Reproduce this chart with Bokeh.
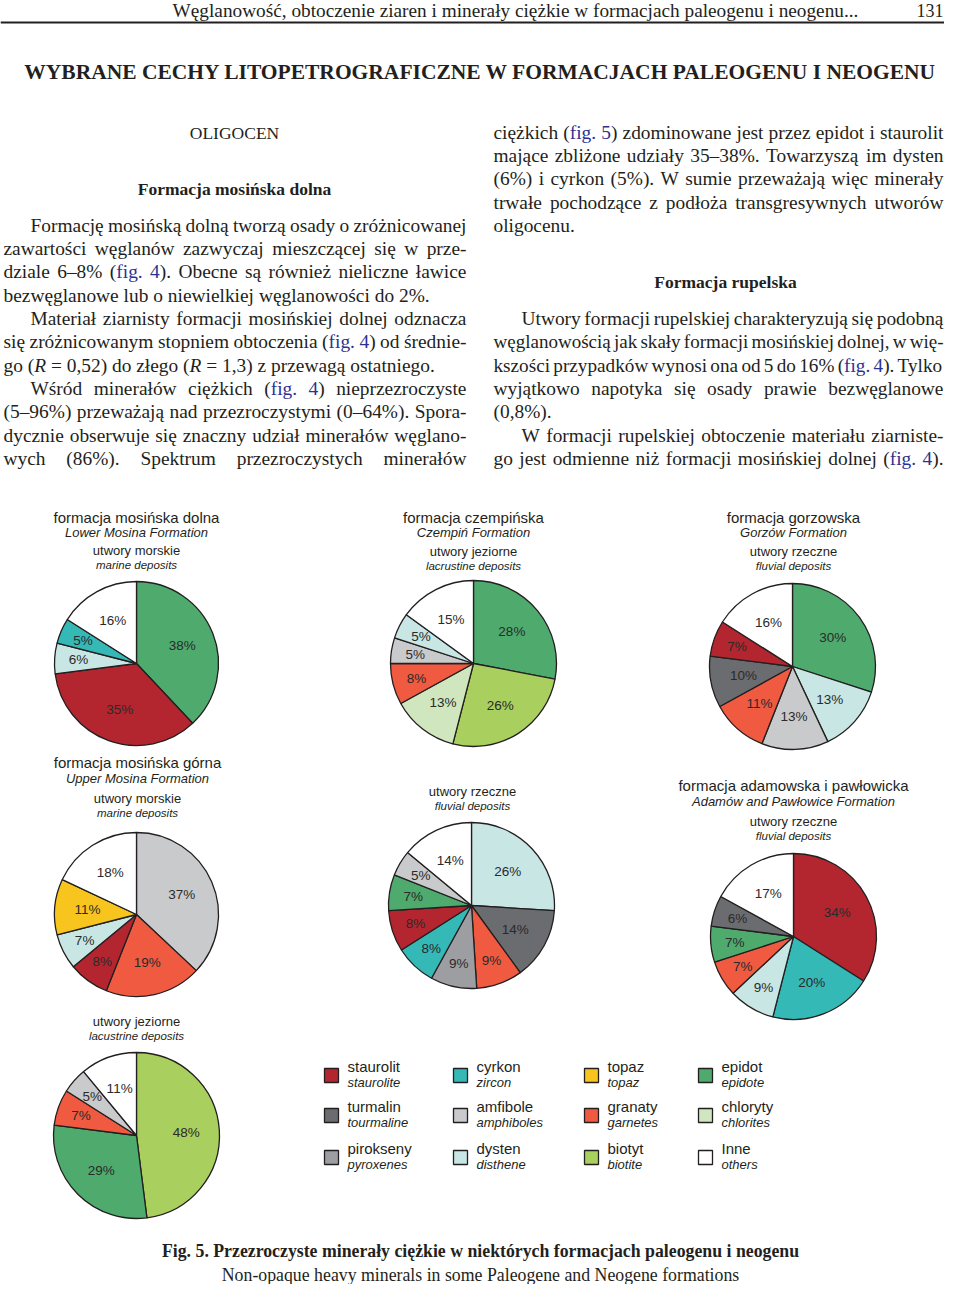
import math
import unicodedata
from bokeh.plotting import figure
from bokeh.models import Range1d, ColumnDataSource
from bokeh.core.properties import value, field
from bokeh.embed import file_html
from bokeh.resources import INLINE

# ---------------------------------------------------------------- data
MINERAL_KEYS = ["staurolit", "turmalin", "pirokseny", "cyrkon", "amfibole", "dysten",
                "topaz", "granaty", "biotyt", "epidot", "chloryty", "inne"]
MINERAL_PL = ["staurolit", "turmalin", "pirokseny", "cyrkon", "amfibole", "dysten",
              "topaz", "granaty", "biotyt", "epidot", "chloryty", "Inne"]
MINERAL_EN = ["staurolite", "tourmaline", "pyroxenes", "zircon", "amphiboles", "disthene",
              "topaz", "garnetes", "biotite", "epidote", "chlorites", "others"]
MINERAL_COLORS = ["#b3262f", "#6b6c70", "#9d9ea1", "#35b9b7", "#c9cacc", "#c8e6e3",
                  "#f8c51f", "#ef5a40", "#a9cf5e", "#4eaa6d", "#cfe6be", "#ffffff"]

dolna_minerals = ["epidot", "staurolit", "dysten", "cyrkon", "inne"]
dolna_values = [38, 35, 6, 5, 16]

czempin_minerals = ["epidot", "biotyt", "chloryty", "granaty", "amfibole", "dysten", "inne"]
czempin_values = [28, 26, 13, 8, 5, 5, 15]

gorzow_minerals = ["epidot", "dysten", "amfibole", "granaty", "turmalin", "staurolit", "inne"]
gorzow_values = [30, 13, 13, 11, 10, 7, 16]

gorna_marine_minerals = ["amfibole", "granaty", "staurolit", "dysten", "topaz", "inne"]
gorna_marine_values = [37, 19, 8, 7, 11, 18]

gorna_fluvial_minerals = ["dysten", "turmalin", "granaty", "pirokseny", "cyrkon",
                          "staurolit", "epidot", "amfibole", "inne"]
gorna_fluvial_values = [26, 14, 9, 9, 8, 8, 7, 5, 14]

adamow_minerals = ["staurolit", "cyrkon", "dysten", "granaty", "epidot", "turmalin", "inne"]
adamow_values = [34, 20, 9, 7, 7, 6, 17]

gorna_lacustrine_minerals = ["biotyt", "epidot", "granaty", "amfibole", "inne"]
gorna_lacustrine_values = [48, 29, 7, 5, 11]

pie_titles = [
    ["formacja mosińska dolna", "Lower Mosina Formation", "utwory morskie", "marine deposits"],
    ["formacja czempińska", "Czempiń Formation", "utwory jeziorne", "lacrustine deposits"],
    ["formacja gorzowska", "Gorzów Formation", "utwory rzeczne", "fluvial deposits"],
    ["formacja mosińska górna", "Upper Mosina Formation", "utwory morskie", "marine deposits"],
    [None, None, "utwory rzeczne", "fluvial deposits"],
    ["formacja adamowska i pawłowicka", "Adamów and Pawłowice Formation", "utwory rzeczne", "fluvial deposits"],
    [None, None, "utwory jeziorne", "lacustrine deposits"],
]

RUNNING_HEAD = "Węglanowość, obtoczenie ziaren i minerały ciężkie w formacjach paleogenu i neogenu..."
PAGE_NO = "131"
SECTION_TITLE = "WYBRANE CECHY LITOPETROGRAFICZNE W FORMACJACH PALEOGENU I NEOGENU"
CAPTION_PL = "Fig. 5. Przezroczyste minerały ciężkie w niektórych formacjach paleogenu i neogenu"
CAPTION_EN = "Non-opaque heavy minerals in some Paleogene and Neogene formations"

# (indent, justify, text)   [..] = link colour, _.._ = italic
LEFT_TEXT = [
    (1, 1, "Formację mosińską dolną tworzą osady o zróżnicowanej"),
    (0, 1, "zawartości węglanów zazwyczaj mieszczącej się w prze-"),
    (0, 1, "dziale 6–8% ([fig. 4]). Obecne są również nieliczne ławice"),
    (0, 0, "bezwęglanowe lub o niewielkiej węglanowości do 2%."),
    (1, 1, "Materiał ziarnisty formacji mosińskiej dolnej odznacza"),
    (0, 1, "się zróżnicowanym stopniem obtoczenia ([fig. 4]) od średnie-"),
    (0, 0, "go (_R_ = 0,52) do złego (_R_ = 1,3) z przewagą ostatniego."),
    (1, 1, "Wśród minerałów ciężkich ([fig. 4]) nieprzezroczyste"),
    (0, 1, "(5–96%) przeważają nad przezroczystymi (0–64%). Spora-"),
    (0, 1, "dycznie obserwuje się znaczny udział minerałów węglano-"),
    (0, 1, "wych (86%). Spektrum przezroczystych minerałów"),
]
LEFT_Y = [225, 248, 271, 295, 318, 341, 365, 388, 411, 435, 458]

RIGHT_TEXT = [
    (0, 1, "ciężkich ([fig. 5]) zdominowane jest przez epidot i staurolit"),
    (0, 1, "mające zbliżone udziały 35–38%. Towarzyszą im dysten"),
    (0, 1, "(6%) i cyrkon (5%). W sumie przeważają więc minerały"),
    (0, 1, "trwałe pochodzące z podłoża transgresywnych utworów"),
    (0, 0, "oligocenu."),
    (1, 1, "Utwory formacji rupelskiej charakteryzują się podobną"),
    (0, 1, "węglanowością jak skały formacji mosińskiej dolnej, w wię-"),
    (0, 1, "kszości przypadków wynosi ona od 5 do 16% ([fig. 4]). Tylko"),
    (0, 1, "wyjątkowo napotyka się osady prawie bezwęglanowe"),
    (0, 0, "(0,8%)."),
    (1, 1, "W formacji rupelskiej obtoczenie materiału ziarniste-"),
    (0, 1, "go jest odmienne niż formacji mosińskiej dolnej ([fig. 4])."),
]
RIGHT_Y = [132, 155, 178, 202, 225, 318, 341, 365, 388, 411, 435, 458]

# ---------------------------------------------------------------- style
INK = "#231f20"
LINK = "#2e3192"
SERIF = "Liberation Serif"
SANS = "Liberation Sans"
BODY_FS = 19.4

TR = {' ': 250, '%': 833, '(': 333, ')': 333, ',': 250, '-': 333, '.': 250, ':': 278, '=': 564,
      '–': 500, '…': 1000,
      'A': 722, 'B': 667, 'C': 667, 'D': 722, 'E': 611, 'F': 556, 'G': 722, 'H': 722, 'I': 333,
      'J': 389, 'K': 722, 'L': 611, 'M': 889, 'N': 722, 'O': 722, 'P': 556, 'Q': 722, 'R': 667,
      'S': 556, 'T': 611, 'U': 722, 'V': 722, 'W': 944, 'X': 722, 'Y': 722, 'Z': 611,
      'a': 444, 'b': 500, 'c': 444, 'd': 500, 'e': 444, 'f': 333, 'g': 500, 'h': 500, 'i': 278,
      'j': 278, 'k': 500, 'l': 278, 'm': 778, 'n': 500, 'o': 500, 'p': 500, 'q': 500, 'r': 333,
      's': 389, 't': 278, 'u': 500, 'v': 500, 'w': 722, 'x': 500, 'y': 500, 'z': 444}
TB = dict(TR)
TB.update({'C': 722, 'E': 667, 'F': 611, 'G': 778, 'H': 778, 'I': 389, 'J': 500, 'K': 778,
           'L': 667, 'M': 944, 'O': 778, 'P': 611, 'Q': 778, 'R': 722, 'T': 667, 'W': 1000,
           'Z': 667, 'a': 500, 'b': 556, 'd': 556, 'h': 556, 'j': 333, 'k': 556, 'm': 833,
           'n': 556, 'p': 556, 'q': 556, 'r': 444, 't': 333, 'u': 556})


def char_w(ch, bold=False, italic=False):
    if ch in ('ł', 'Ł'):
        ch = 'l' if ch == 'ł' else 'L'
    base = unicodedata.normalize('NFD', ch)[0]
    if ch.isdigit():
        return 500
    if italic and base == 'R':
        return 611
    return (TB if bold else TR).get(base, 500)


def text_w(s, bold=False, italic=False):
    return sum(char_w(c, bold, italic) for c in s)


def new_store():
    return {k: [] for k in ("x", "y", "text", "color", "size", "style")}


serif, serif_c, serif_r, sans_c, sans_l = (new_store() for _ in range(5))


def put(store, x, y, text, size, color=INK, style="normal"):
    store["x"].append(x)
    store["y"].append(-y)
    store["text"].append(text)
    store["color"].append(color)
    store["size"].append("%.2fpx" % size)
    store["style"].append(style)


def parse(s):
    chars, blue, ital = [], False, False
    for ch in s:
        if ch == '[':
            blue = True
            continue
        if ch == ']':
            blue = False
            continue
        if ch == '_':
            ital = not ital
            continue
        chars.append((ch, blue, ital))
    words, cur = [], []
    for c in chars:
        if c[0] == ' ':
            if cur:
                words.append(cur)
                cur = []
        else:
            cur.append(c)
    if cur:
        words.append(cur)
    out = []
    for w in words:
        runs = []
        for ch, b, i in w:
            if runs and runs[-1][1] == b and runs[-1][2] == i:
                runs[-1][0] += ch
            else:
                runs.append([ch, b, i])
        out.append(runs)
    return out


def set_line(text, x0, x1, y, fs, justify):
    words = parse(text)
    units = [sum(text_w(r[0], False, r[2]) for r in w) for w in words]
    U = sum(units) / 1000.0
    n = len(words)
    gap = 0.25 * fs
    if justify and n > 1:
        if U * fs + 0.17 * fs * (n - 1) > (x1 - x0):
            fs = (x1 - x0) / (U + 0.17 * (n - 1))
        gap = (x1 - x0 - U * fs) / (n - 1)
    x = x0
    for w, u in zip(words, units):
        xx = x
        for t, b, i in w:
            put(serif, xx, y, t, fs, LINK if b else INK, "italic" if i else "normal")
            xx += text_w(t, False, i) * fs / 1000.0
        x += u * fs / 1000.0 + gap


def fitted(s, width, bold=False):
    return width * 1000.0 / text_w(s, bold)


# ---------------------------------------------------------------- figure
p = figure(width=944, height=1284, x_range=Range1d(0, 944), y_range=Range1d(-1284, 0),
           output_backend="svg", toolbar_location=None, min_border=0,
           x_axis_location=None, y_axis_location=None)
p.grid.visible = False
p.outline_line_color = None
p.background_fill_color = "white"
p.border_fill_color = "white"

# running head
put(serif_c, 515, 10, RUNNING_HEAD, fitted(RUNNING_HEAD, 686), INK)
put(serif_r, 943, 10, PAGE_NO, 18, INK)
p.segment(x0=[0], y0=[-22], x1=[944], y1=[-22], line_color=INK, line_width=2)

# section title and headings
put(serif_c, 480, 71, SECTION_TITLE, fitted(SECTION_TITLE, 915, True), INK, "bold")
put(serif_c, 234, 132, "OLIGOCEN", 17.5)
put(serif_c, 234, 188, "Formacja mosińska dolna", 17.5, INK, "bold")
put(serif_c, 725, 281, "Formacja rupelska", 17.5, INK, "bold")

for (ind, just, txt), y in zip(LEFT_TEXT, LEFT_Y):
    set_line(txt, 3 + (27 if ind else 0), 466, y, BODY_FS, just)
for (ind, just, txt), y in zip(RIGHT_TEXT, RIGHT_Y):
    set_line(txt, 493 + (28 if ind else 0), 943, y, BODY_FS, just)

# captions
put(serif_c, 480, 1250, CAPTION_PL, fitted(CAPTION_PL, 638, True), INK, "bold")
put(serif_c, 480, 1274, CAPTION_EN, fitted(CAPTION_EN, 518), INK)

# ---------------------------------------------------------------- pies
color_of = dict(zip(MINERAL_KEYS, MINERAL_COLORS))
pies = [
    (dolna_minerals, dolna_values, 136, 663, 82, 136, [517, 532, 550, 564]),
    (czempin_minerals, czempin_values, 473, 663, 83, 473, [517, 532, 551, 565]),
    (gorzow_minerals, gorzow_values, 792, 666, 83, 793, [517, 532, 551, 565]),
    (gorna_marine_minerals, gorna_marine_values, 136, 914, 82, 137, [762, 778, 798, 812]),
    (gorna_fluvial_minerals, gorna_fluvial_values, 471, 905, 83, 472, [0, 0, 791, 805]),
    (adamow_minerals, adamow_values, 793, 936, 83, 793, [785, 801, 821, 835]),
    (gorna_lacustrine_minerals, gorna_lacustrine_values, 136, 1135, 83, 136, [0, 0, 1021, 1035]),
]
title_fmt = [(15, "normal"), (13, "italic"), (13, "normal"), (11.5, "italic")]

for (mins, vals, cx, cy, r, tx, tys), titles in zip(pies, pie_titles):
    total = float(sum(vals))
    src = dict(x=[], y=[], start=[], end=[], color=[])
    c0 = 0.0
    for m, v in zip(mins, vals):
        c1 = c0 + v / total
        src["x"].append(cx)
        src["y"].append(-cy)
        src["start"].append(math.pi / 2 - 2 * math.pi * c0)
        src["end"].append(math.pi / 2 - 2 * math.pi * c1)
        src["color"].append(color_of[m])
        mid = 2 * math.pi * (c0 + c1) / 2
        rl = r * (0.6 if v >= 10 else 0.71)
        put(sans_c, cx + rl * math.sin(mid), cy - rl * math.cos(mid), "%d%%" % v, 13.5, "#2a2a2a")
        c0 = c1
    p.wedge(x="x", y="y", radius=r, start_angle="start", end_angle="end", direction="clock",
            fill_color="color", line_color=INK, line_width=1.3, source=ColumnDataSource(src))
    for t, ty, (fs, st) in zip(titles, tys, title_fmt):
        if t:
            put(sans_c, tx, ty, t, fs, INK, st)

# ---------------------------------------------------------------- legend
leg_cols = [331, 460, 591, 705]
leg_rows = [1075, 1115, 1157]
lx, ly, lc = [], [], []
for i, (pl, en, col) in enumerate(zip(MINERAL_PL, MINERAL_EN, MINERAL_COLORS)):
    c, rr = divmod(i, 3)
    x, y = leg_cols[c], leg_rows[rr]
    lx.append(x)
    ly.append(-y)
    lc.append(col)
    put(sans_l, x + 16, y - 9, pl, 15, INK)
    put(sans_l, x + 16, y + 7, en, 13, INK, "italic")
p.rect(x=lx, y=ly, width=14, height=14, fill_color=lc, line_color=INK, line_width=1.3)

# ---------------------------------------------------------------- text renderers
for store, font, align in ((serif, SERIF, "left"), (serif_c, SERIF, "center"),
                           (serif_r, SERIF, "right"), (sans_c, SANS, "center"),
                           (sans_l, SANS, "left")):
    p.text(x="x", y="y", text="text", source=ColumnDataSource(store),
           text_font=value(font), text_font_size=field("size"), text_color=field("color"),
           text_font_style=field("style"), text_align=align, text_baseline="middle")

open("out.html", "w").write(file_html(p, INLINE))
